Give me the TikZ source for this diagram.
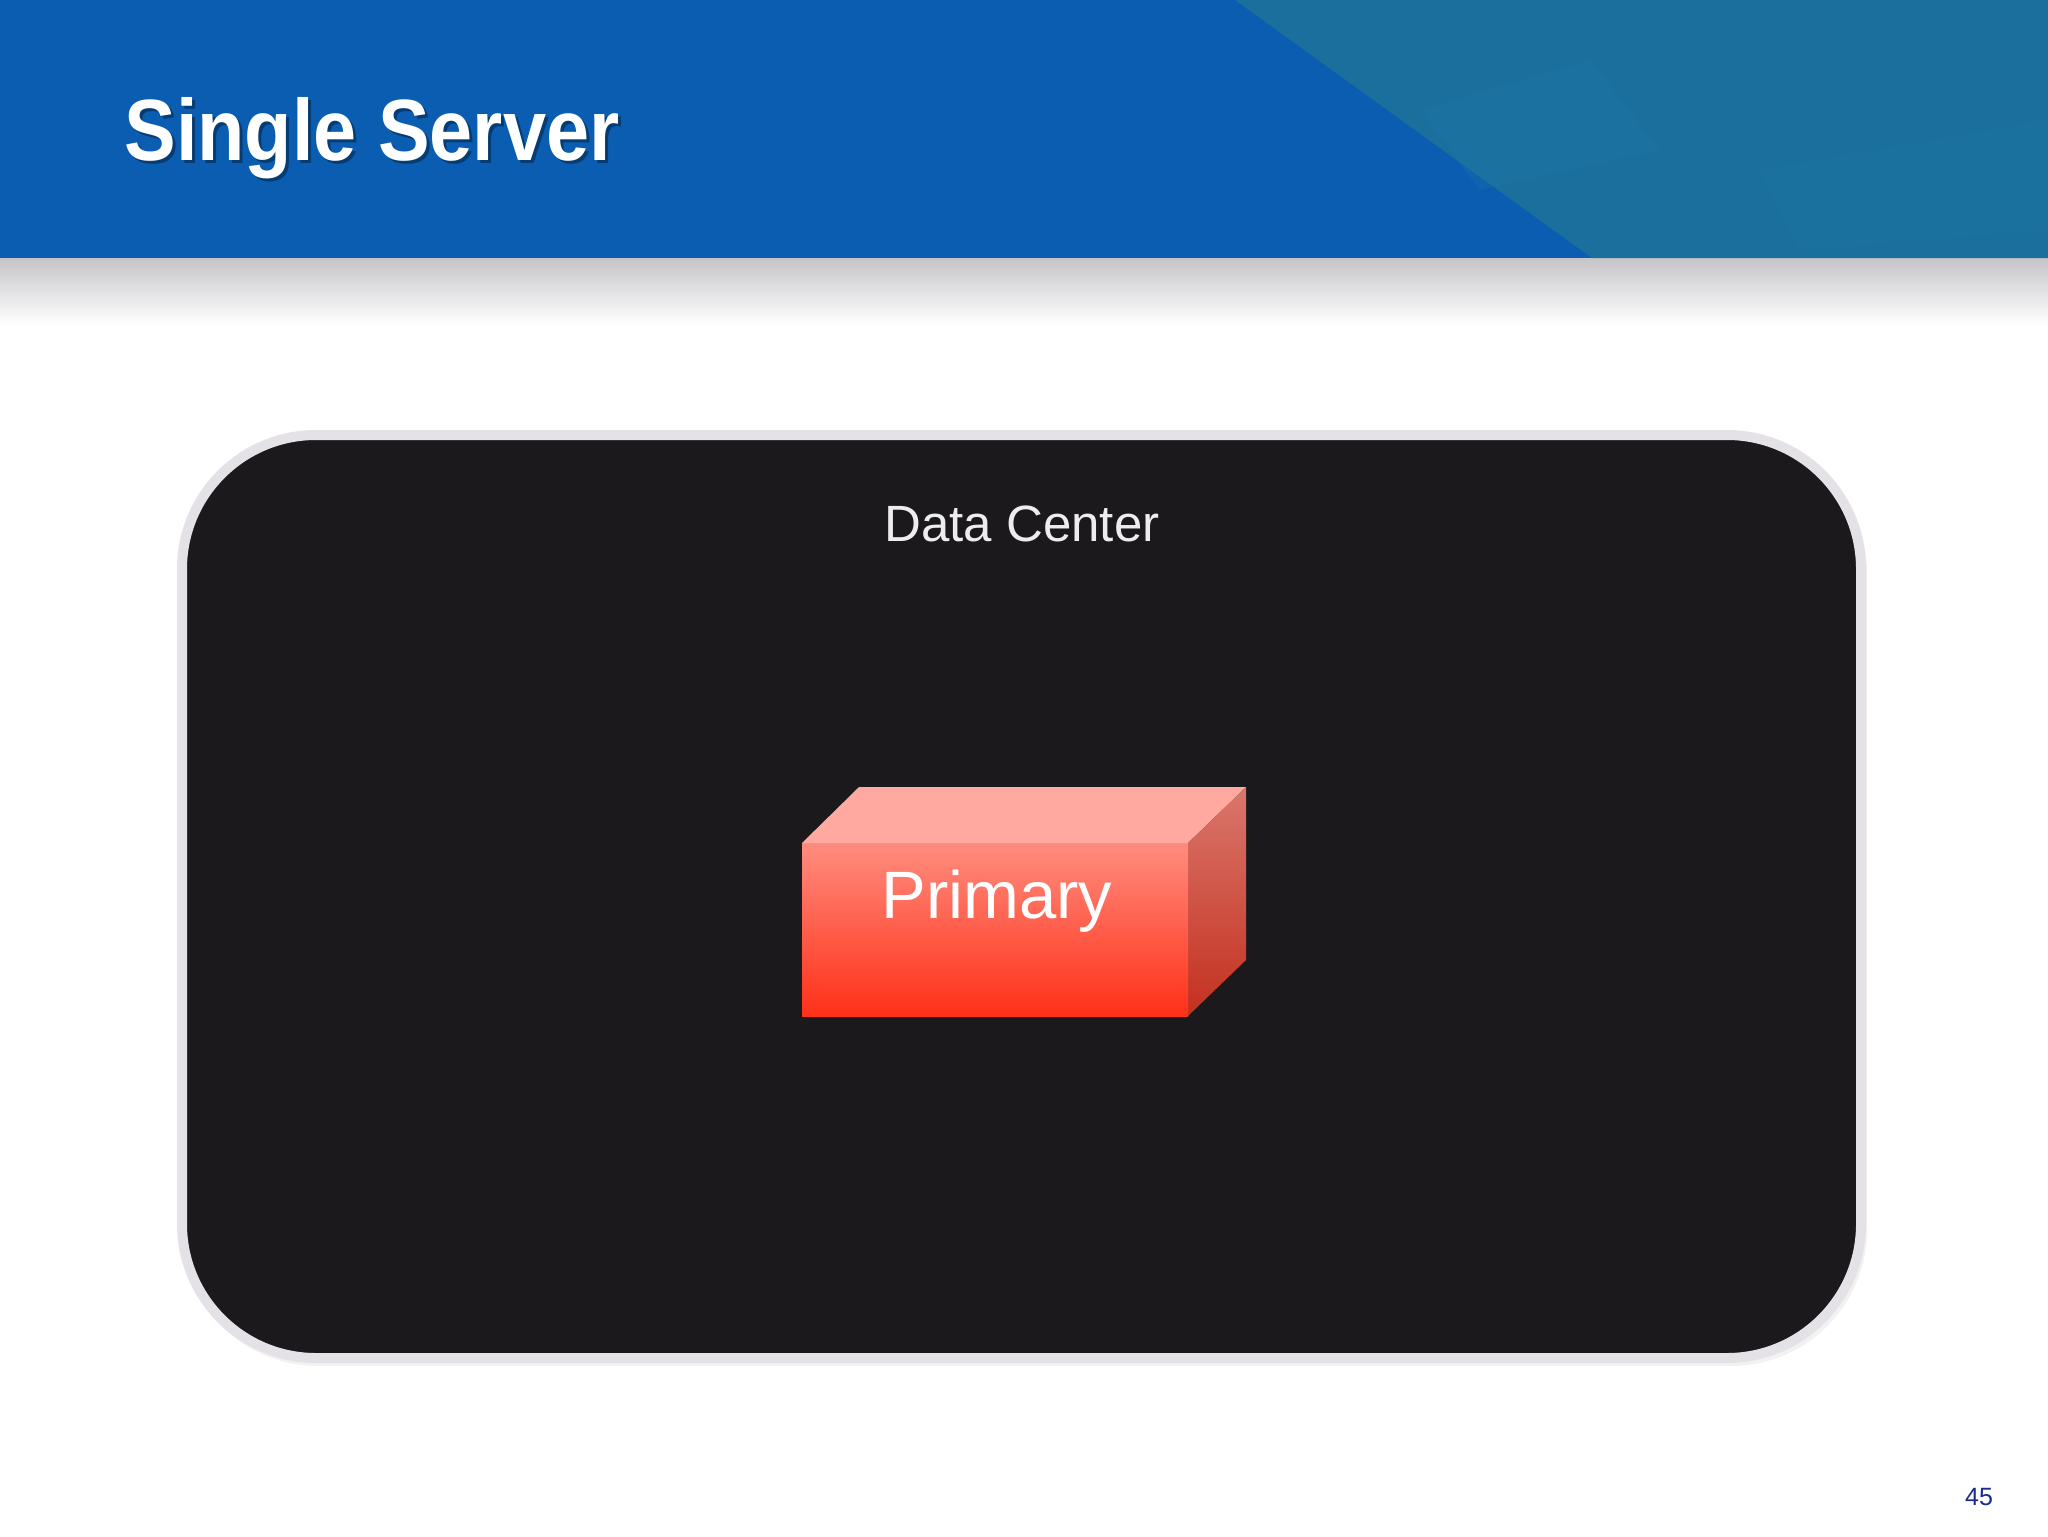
\documentclass[tikz,border=0pt]{standalone}
\usepackage{fontspec}
\setmainfont{Liberation Sans}
\definecolor{hdrblue}{HTML}{0A5DB0}
\definecolor{hdrteal}{HTML}{1A6F9C}
\definecolor{hdrlight}{HTML}{2079A8}
\definecolor{shadowgray}{HTML}{C6C4C8}
\definecolor{dcfill}{HTML}{1B191C}
\definecolor{dcborder}{HTML}{E4E2E6}
\definecolor{dctext}{HTML}{EDEDED}
\definecolor{pagenum}{HTML}{1A2C8C}
\definecolor{topface}{HTML}{FFA9A0}
\definecolor{fronttop}{HTML}{FF8C7E}
\definecolor{frontbot}{HTML}{FF3018}
\definecolor{sidetop}{HTML}{DA776C}
\definecolor{sidebot}{HTML}{C4301F}
\begin{document}
\begin{tikzpicture}[x=0.5pt,y=-0.5pt,
  titletext/.style={inner sep=0pt,anchor=base west,font=\fontsize{43.5pt}{50pt}\selectfont\bfseries},
  labeltext/.style={inner sep=0pt,anchor=base,text=dctext,font=\fontsize{25.5pt}{30pt}\selectfont},
  boxtext/.style={inner sep=0pt,anchor=base,text=white,font=\fontsize{33.5pt}{40pt}\selectfont},
  numtext/.style={inner sep=0pt,anchor=base,text=pagenum,font=\fontsize{12.5pt}{15pt}\selectfont}]
\useasboundingbox (0,0) rectangle (2048,1536);
\fill[white] (0,0) rectangle (2048,1536);
% header shadow
\shade[top color=shadowgray,bottom color=white] (0,258) rectangle (2048,325);
% header band
\fill[hdrblue] (0,0) rectangle (2048,258);
\fill[hdrteal] (1235,0) -- (2048,0) -- (2048,258) -- (1592,258) -- cycle;
\fill[hdrlight,opacity=0.25] (1420,110) -- (1590,60) -- (1660,150) -- (1480,190) -- cycle;
\fill[hdrlight,opacity=0.2] (1760,170) -- (2048,120) -- (2048,230) -- (1800,250) -- cycle;
% title
\node[titletext,text=black,opacity=0.35] at (127,163) {\scalebox{0.89}[1]{Single Server}};
\node[titletext,text=white] (title) at (124,160) {\scalebox{0.89}[1]{Single Server}};
% data center
\fill[black,opacity=0.05,rounded corners=68pt] (182,437) rectangle (1867,1366);
\draw[fill=dcfill,draw=dcborder,line width=5pt,rounded corners=67pt] (182,435) rectangle (1861,1358);
\node[labeltext] (dc) at (1022,541) {Data Center};
% primary box
\coordinate (fl) at (802,843);
\coordinate (fr) at (1188,843);
\coordinate (br) at (1188,1016);
\coordinate (bl) at (802,1016);
\coordinate (tl) at (859,787);
\coordinate (tr) at (1246,787);
\coordinate (rb) at (1246,960);
\fill[topface] (fl) -- (tl) -- (tr) -- (fr) -- cycle;
\shade[top color=sidetop,bottom color=sidebot] (fr) -- (tr) -- (rb) -- (br) -- cycle;
\shade[top color=fronttop,bottom color=frontbot] (fl) rectangle (br);
\node[boxtext] (primary) at (997,918) {Primary};
% page number
\node[numtext] (num) at (1979,1505) {45};
\end{tikzpicture}
\end{document}
